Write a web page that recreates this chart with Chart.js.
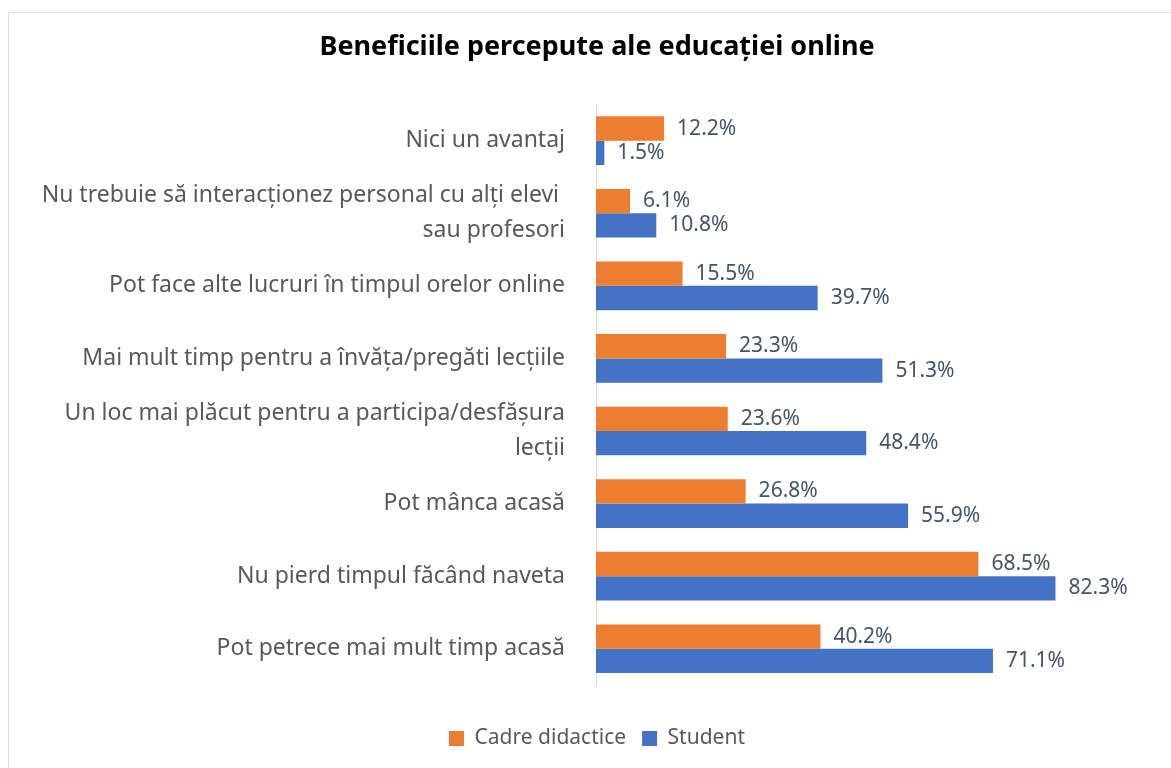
<!DOCTYPE html>
<html>
<head>
<meta charset="utf-8">
<script src="https://cdn.jsdelivr.net/npm/chart.js@4.4.0/dist/chart.umd.min.js"></script>
<style>
    html, body { margin: 0; padding: 0; overflow: hidden; background: #fff; }
    #box { position: absolute; left: 8px; top: 12px; width: 1176px; height: 770px; border: 1px solid #d9dde6; }
</style>
</head>
<body>
<div id="box"><canvas id="chart"></canvas></div>
<script>
// Data
var categories = [
    "Nici un avantaj",
    ["Nu trebuie să interacționez personal cu alți elevi ", "sau profesori"],
    "Pot face alte lucruri în timpul orelor online",
    "Mai mult timp pentru a învăța/pregăti lecțiile",
    ["Un loc mai plăcut pentru a participa/desfășura", "lecții"],
    "Pot mânca acasă",
    "Nu pierd timpul făcând naveta",
    "Pot petrece mai mult timp acasă"
]
var cadreDidactice = [12.2, 6.1, 15.5, 23.3, 23.6, 26.8, 68.5, 40.2]
var student = [1.5, 10.8, 39.7, 51.3, 48.4, 55.9, 82.3, 71.1]
var seriesNames = ["Cadre didactice", "Student"]

var fontFamily = "'Noto Sans', sans-serif"

// Value labels to the right of each bar
var barLabels = {
    id: "barLabels",
    afterDatasetsDraw: function(chart) {
        var ctx = chart.ctx
        ctx.save()
        ctx.font = "21px " + fontFamily
        ctx.fillStyle = "#44546a"
        ctx.textBaseline = "middle"
        ctx.textAlign = "left"
        chart.data.datasets.forEach(function(ds, i) {
            chart.getDatasetMeta(i).data.forEach(function(bar, j) {
                ctx.fillText(ds.data[j].toFixed(1) + "%", bar.x + 13, bar.y)
            })
        })
        ctx.restore()
    }
}

new Chart(document.getElementById("chart"), {
    type: "bar",
    data: {
        labels: categories,
        datasets: [{
            label: seriesNames[0],
            data: cadreDidactice,
            backgroundColor: "#ed7d31",
            categoryPercentage: 0.67,
            barPercentage: 1
        }, {
            label: seriesNames[1],
            data: student,
            backgroundColor: "#4472c4",
            categoryPercentage: 0.67,
            barPercentage: 1
        }]
    },
    options: {
        indexAxis: "y",
        responsive: true,
        maintainAspectRatio: false,
        animation: false,
        layout: { padding: { left: 0, right: 0, top: 0, bottom: 24 } },
        scales: {
            x: {
                min: 0,
                max: 105.5,
                grid: { display: false },
                border: { display: false },
                ticks: { display: false },
                afterFit: function(scale) { scale.height = 27 }
            },
            y: {
                grid: { display: false, drawTicks: false },
                border: { display: true, color: "#d9d9d9", width: 1 },
                ticks: {
                    color: "#595959",
                    padding: 31,
                    autoSkip: false,
                    font: { family: fontFamily, size: 23, lineHeight: 1.52 }
                },
                afterFit: function(scale) { scale.width = 587 }
            }
        },
        plugins: {
            title: {
                display: true,
                text: "Beneficiile percepute ale educației online",
                color: "#000",
                font: { family: fontFamily, size: 27, weight: "bold" },
                padding: { top: 18, bottom: 41 }
            },
            legend: {
                position: "bottom",
                labels: {
                    color: "#595959",
                    boxWidth: 15,
                    boxHeight: 15,
                    padding: 16,
                    font: { family: fontFamily, size: 21 }
                }
            },
            tooltip: { enabled: false }
        }
    },
    plugins: [barLabels]
})
</script>
</body>
</html>
